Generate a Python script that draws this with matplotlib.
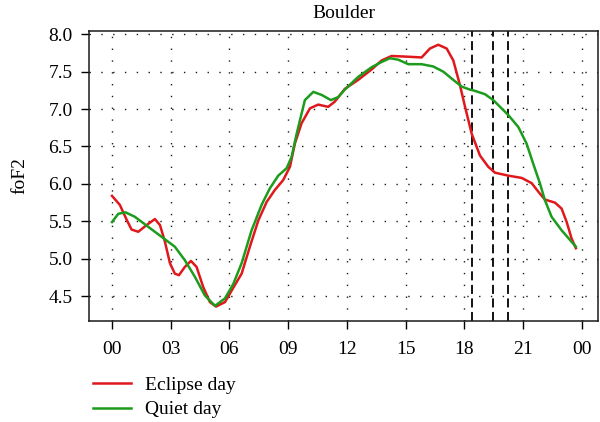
import numpy as np
import matplotlib.pyplot as plt

plt.rcParams['font.family'] = ['Liberation Serif', 'DejaVu Serif']

# foF2 (hour UT, MHz)
eclipse_hours = [0.0, 0.4, 0.75, 1.0, 1.34, 1.77, 2.19, 2.45, 2.7, 2.96, 3.21, 3.42,
                 3.72, 4.03, 4.32, 4.66, 5.0, 5.31, 5.77, 6.19, 6.62, 7.04, 7.47, 7.9,
                 8.32, 8.74, 9.09, 9.34, 9.68, 10.11, 10.53, 11.04, 11.38, 11.89, 12.57,
                 13.26, 13.77, 14.28, 15.13, 15.81, 16.24, 16.66, 17.09, 17.43, 17.77,
                 18.02, 18.37, 18.79, 19.21, 19.56, 20.24, 20.92, 21.43, 21.85, 22.11,
                 22.62, 22.96, 23.22, 23.47, 23.69]
eclipse_fof2 = [5.84, 5.72, 5.52, 5.39, 5.36, 5.45, 5.53, 5.45, 5.23, 4.94, 4.80, 4.78,
                4.89, 4.97, 4.89, 4.62, 4.42, 4.36, 4.42, 4.61, 4.80, 5.16, 5.51, 5.76,
                5.92, 6.05, 6.23, 6.54, 6.81, 7.01, 7.06, 7.03, 7.10, 7.27, 7.39,
                7.53, 7.65, 7.71, 7.70, 7.69, 7.81, 7.86, 7.81, 7.65, 7.32,
                7.04, 6.67, 6.38, 6.23, 6.15, 6.11, 6.08, 6.01, 5.87, 5.79,
                5.75, 5.67, 5.49, 5.27, 5.14]

quiet_hours = [0.0, 0.32, 0.69, 1.17, 1.68, 2.19, 2.7, 3.21, 3.72, 4.23, 4.74, 5.26,
               5.77, 6.19, 6.62, 7.13, 7.64, 8.06, 8.49, 8.92, 9.17, 9.43, 9.85, 10.28,
               10.7, 11.18, 11.55, 11.89, 12.57, 13.26, 13.77, 14.19, 14.62, 15.13, 15.81,
               16.4, 16.92, 17.43, 17.86, 18.28, 18.45, 19.04, 19.47, 20.24, 20.75,
               21.17, 21.51, 21.85, 22.11, 22.45, 22.96, 23.69]
quiet_fof2 = [5.49, 5.60, 5.62, 5.56, 5.46, 5.36, 5.26, 5.16, 4.98, 4.76, 4.51, 4.37,
              4.47, 4.66, 4.94, 5.38, 5.72, 5.94, 6.11, 6.21, 6.36, 6.67, 7.12, 7.23,
              7.19, 7.12, 7.16, 7.26, 7.43, 7.56, 7.63, 7.68, 7.66, 7.60, 7.60,
              7.57, 7.50, 7.39, 7.30, 7.26, 7.25, 7.20, 7.12, 6.92, 6.76,
              6.54, 6.27, 6.01, 5.78, 5.56, 5.38, 5.16]

# eclipse start / maximum / end
eclipse_marks = [18.37, 19.45, 20.2]

xticks = [0, 3, 6, 9, 12, 15, 18, 21, 24]
xlabels = ['00', '03', '06', '09', '12', '15', '18', '21', '00']
yticks = [4.5, 5.0, 5.5, 6.0, 6.5, 7.0, 7.5, 8.0]

fig = plt.figure(figsize=(6, 4.22), dpi=100)
ax = fig.add_axes([0.1488, 0.2405, 0.8479, 0.6868])

for h in xticks:
    ax.axvline(h, color='0.1', lw=1.0, ls=(0, (1, 7.5)), zorder=1)
for v in yticks:
    ax.axhline(v, color='0.1', lw=1.0, ls=(0, (1, 7.5)), zorder=1)

for h in eclipse_marks:
    ax.axvline(h, color='black', lw=1.3, ls=(0, (5, 2.5)), zorder=2)

ax.plot(eclipse_hours, eclipse_fof2, color='#e0181c', lw=1.8, label='Eclipse day', zorder=3)
ax.plot(quiet_hours, quiet_fof2, color='#1c9c1c', lw=1.8, label='Quiet day', zorder=4)

ax.set_xlim(-1.16, 24.82)
ax.set_ylim(4.174, 8.048)
ax.set_xticks(xticks)
ax.set_xticklabels(xlabels)
ax.set_yticks(yticks)
ax.set_yticklabels(['%.1f' % v for v in yticks])
ax.tick_params(direction='out', length=6, width=1, labelsize=14, pad=6)
ax.tick_params(axis='x', pad=9)
for s in ax.spines.values():
    s.set_linewidth(1.1)
    s.set_color('0.1')

ax.set_title('Boulder', fontsize=14, pad=9)
ax.set_ylabel('foF2', fontsize=14, labelpad=14)

fig.legend(loc='lower left', bbox_to_anchor=(0.125, -0.033), frameon=False,
           fontsize=14, handlelength=2.0, handletextpad=0.7, labelspacing=0.35)

fig.savefig('out.png', dpi=100)
